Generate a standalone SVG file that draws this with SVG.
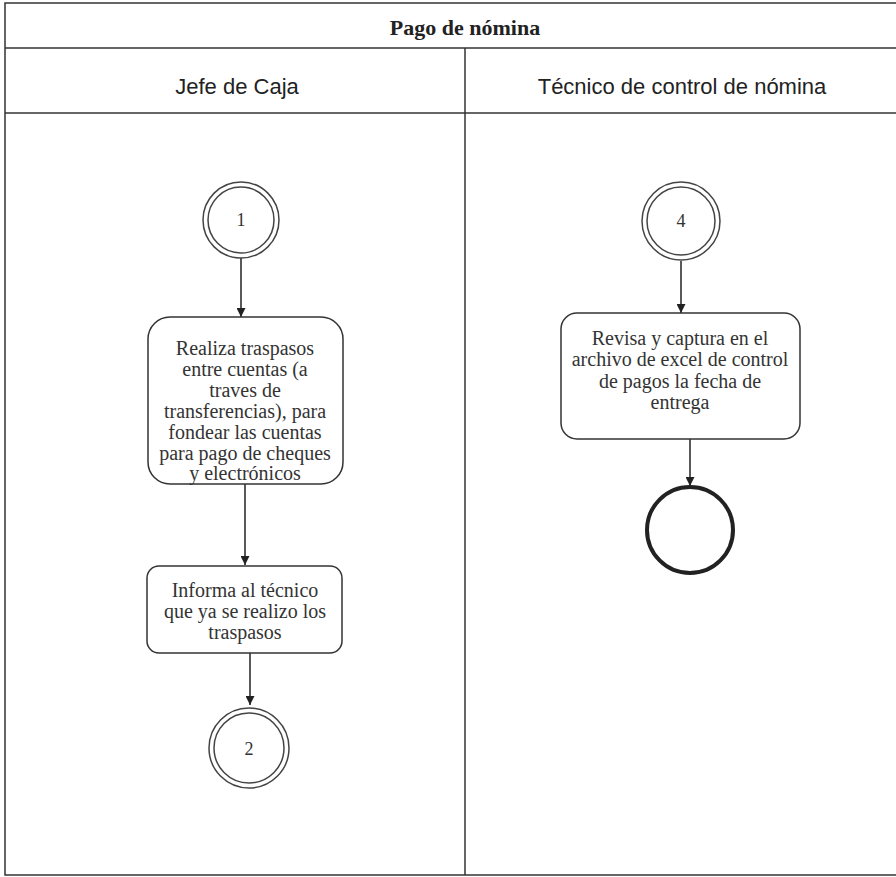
<svg xmlns="http://www.w3.org/2000/svg" width="896" height="877" viewBox="0 0 896 877">
<defs>
<style>
.lane{fill:none;stroke:#333;stroke-width:1.5}
.hdr{font-family:"Liberation Sans",Arial,sans-serif;font-size:22px;fill:#222;text-anchor:middle}
.ttl{font-family:"Liberation Serif","Times New Roman",serif;font-size:22px;font-weight:bold;fill:#222;text-anchor:middle}
.txt{font-family:"Liberation Serif","Times New Roman",serif;font-size:20px;fill:#333;text-anchor:middle}
.num{font-family:"Liberation Serif","Times New Roman",serif;font-size:18px;fill:#333;text-anchor:middle}
.box{fill:#fff;stroke:#333;stroke-width:1.5}
.circ{fill:#fff;stroke:#444;stroke-width:1.5}
.endc{fill:#fff;stroke:#222;stroke-width:4}
.edge{fill:none;stroke:#222;stroke-width:1.5;marker-end:url(#arr)}
</style>
<marker id="arr" viewBox="0 0 10 10" refX="10" refY="5" markerWidth="9" markerHeight="9" markerUnits="userSpaceOnUse" orient="auto">
<path d="M0,0 L10,5 L0,10 z" fill="#222"/>
</marker>
</defs>
<rect width="896" height="877" fill="#fff"/>
<g id="pool">
<rect class="lane" x="5" y="3" width="900" height="872"/>
<line class="lane" x1="5" y1="48" x2="896" y2="48"/>
<line class="lane" x1="5" y1="113" x2="896" y2="113"/>
<line class="lane" x1="465" y1="48" x2="465" y2="875"/>
<text class="ttl" x="465" y="35">Pago de nómina</text>
<text class="hdr" x="237" y="94">Jefe de Caja</text>
<text class="hdr" x="682" y="94">Técnico de control de nómina</text>
</g>
<g id="connectors">
<line class="edge" x1="241" y1="258" x2="241" y2="317"/>
<line class="edge" x1="245" y1="484" x2="245" y2="565"/>
<line class="edge" x1="250" y1="653" x2="250" y2="705"/>
<line class="edge" x1="681" y1="261" x2="681" y2="313"/>
<line class="edge" x1="690" y1="439" x2="690" y2="486"/>
</g>
<g id="n1">
<circle class="circ" cx="241" cy="220" r="38"/>
<circle class="circ" cx="241" cy="220" r="33"/>
<text class="num" x="241" y="226">1</text>
</g>
<g id="a1">
<rect class="box" x="148" y="317" width="195" height="167" rx="22"/>
<text class="txt" x="245" y="355">Realiza traspasos</text>
<text class="txt" x="245" y="376">entre cuentas (a</text>
<text class="txt" x="245" y="397">traves de</text>
<text class="txt" x="245" y="418">transferencias), para</text>
<text class="txt" x="245" y="439">fondear las cuentas</text>
<text class="txt" x="245" y="460">para pago de cheques</text>
<text class="txt" x="245" y="480">y electrónicos</text>
</g>
<g id="a2">
<rect class="box" x="147" y="566" width="195" height="87" rx="12"/>
<text class="txt" x="245" y="597">Informa al técnico</text>
<text class="txt" x="245" y="618">que ya se realizo los</text>
<text class="txt" x="245" y="639">traspasos</text>
</g>
<g id="n2">
<circle class="circ" cx="249" cy="748" r="40"/>
<circle class="circ" cx="249" cy="748" r="35"/>
<text class="num" x="249" y="755">2</text>
</g>
<g id="n4">
<circle class="circ" cx="681" cy="221" r="39"/>
<circle class="circ" cx="681" cy="221" r="34"/>
<text class="num" x="681" y="227">4</text>
</g>
<g id="a3">
<rect class="box" x="561" y="313" width="239" height="126" rx="16"/>
<text class="txt" x="680" y="345">Revisa y captura en el</text>
<text class="txt" x="680" y="366">archivo de excel de control</text>
<text class="txt" x="680" y="388">de pagos la fecha de</text>
<text class="txt" x="680" y="409">entrega</text>
</g>
<g id="end">
<circle class="endc" cx="690" cy="530" r="43"/>
</g>
</svg>
